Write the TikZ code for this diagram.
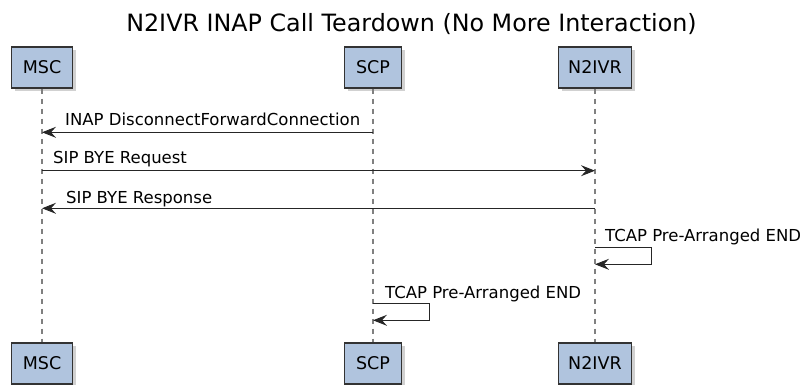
\documentclass[tikz,border=0pt]{standalone}
\usepackage{fontspec}
\setmainfont{DejaVu Sans}
\usetikzlibrary{arrows.meta,shadows}
\definecolor{partblue}{HTML}{B0C4DE}
\definecolor{linegray}{HTML}{808080}

\begin{document}
\begin{tikzpicture}[x=1pt,y=-1pt,
  partnode/.style={rectangle, draw=black!80, fill=partblue, line width=1.2pt, minimum height=41pt, inner sep=0pt, font=\fontsize{17.5}{20}\selectfont, drop shadow={shadow xshift=3pt, shadow yshift=-3pt, opacity=0.3, fill=black!60}},
  lifeline/.style={draw=linegray, line width=2pt, dash pattern=on 5pt off 5pt},
  msg/.style={draw=black!85, line width=1pt, -{Stealth[length=14pt, width=11pt, inset=5pt]}},
  msglabel/.style={anchor=base west, inner sep=0pt, font=\fontsize{16.5}{18}\selectfont}]
\useasboundingbox (0,0) rectangle (809,385);
\node[anchor=base, inner sep=0pt, font=\fontsize{23.8}{26}\selectfont] (title) at (411.5,32) {N2IVR INAP Call Teardown (No More Interaction)};
\node[partnode, minimum width=61pt] (MSCtop) at (42,67.5) {MSC};
\node[partnode, minimum width=57pt] (SCPtop) at (373,67.5) {SCP};
\node[partnode, minimum width=73pt] (IVRtop) at (595,67.5) {N2IVR};
\node[partnode, minimum width=61pt] (MSCbot) at (42,363.5) {MSC};
\node[partnode, minimum width=57pt] (SCPbot) at (373,363.5) {SCP};
\node[partnode, minimum width=73pt] (IVRbot) at (595,363.5) {N2IVR};
\draw[lifeline] (MSCtop) -- (MSCbot);
\draw[lifeline] (SCPtop) -- (SCPbot);
\draw[lifeline] (IVRtop) -- (IVRbot);
\coordinate (SCPa) at (373,132.3);
\coordinate (MSCa) at (42,132.3);
\coordinate (MSCb) at (42,170.7);
\coordinate (IVRb) at (595,170.7);
\coordinate (IVRc) at (595,208.3);
\coordinate (MSCc) at (42,208.3);
\coordinate (IVRd) at (595,247.3);
\coordinate (IVRe) at (595,264.3);
\coordinate (SCPd) at (373,303.3);
\coordinate (SCPe) at (373,320.3);
\draw[msg] (SCPa) -- (MSCa);
\draw[msg] (MSCb) -- (IVRb);
\draw[msg] (IVRc) -- (MSCc);
\draw[msg] (IVRd) -- ++(56,0) -- ++(0,17) -- (IVRe);
\draw[msg] (SCPd) -- ++(56,0) -- ++(0,17) -- (SCPe);
\node[msglabel] (disc) at (65,126) {INAP DisconnectForwardConnection};
\node[msglabel] (byereq) at (53,163.5) {SIP BYE Request};
\node[msglabel] (byeresp) at (66,204) {SIP BYE Response};
\node[msglabel] (ivrend) at (605,241.7) {TCAP Pre-Arranged END};
\node[msglabel] (scpend) at (385,298) {TCAP Pre-Arranged END};
\end{tikzpicture}
\end{document}
